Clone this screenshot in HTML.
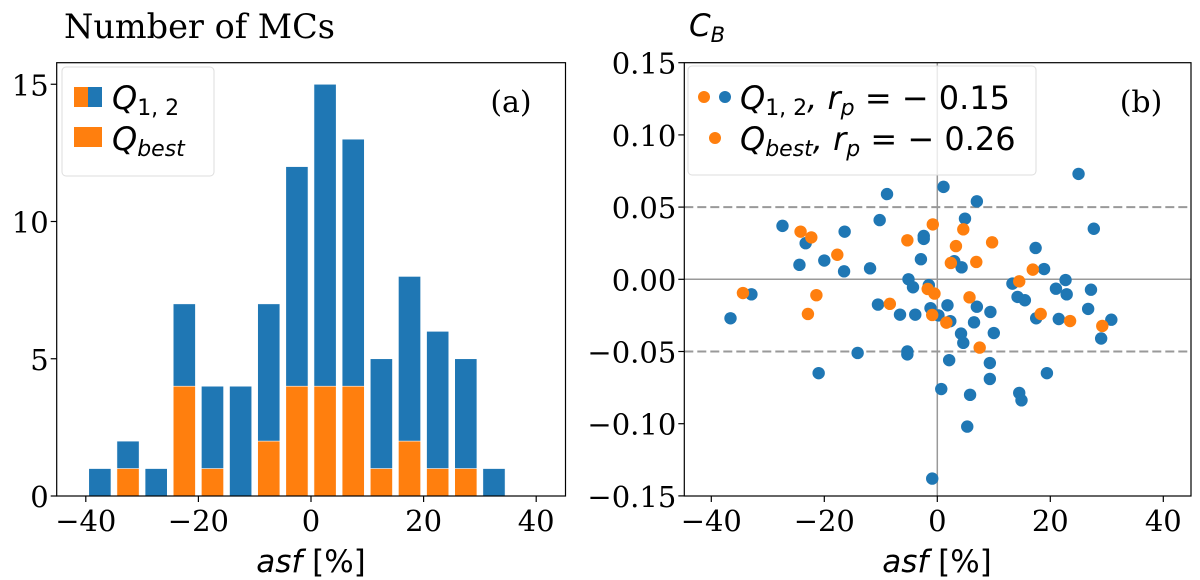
<!DOCTYPE html>
<html><head><meta charset="utf-8"><style>
html,body{margin:0;padding:0;background:#fff;}
svg{display:block;}
.tk{font-family:"DejaVu Serif","Liberation Serif",serif;font-size:29px;fill:#000;}
.lg{font-family:"DejaVu Sans","Liberation Sans",sans-serif;font-size:32px;font-style:italic;fill:#000;}
.nm{font-style:normal;}
</style></head><body>
<svg id="fig" width="1200" height="580" xmlns="http://www.w3.org/2000/svg">
<g id="left"></g>
<g id="right"></g>
</svg>
<script>
// ---- histogram data ----
const binCenters = [-37.5,-32.5,-27.5,-22.5,-17.5,-12.5,-7.5,-2.5,2.5,7.5,12.5,17.5,22.5,27.5,32.5];
const countsQ12 = [1,2,1,7,4,4,7,12,15,13,5,8,6,5,1];
const countsQbest = [0,1,0,4,1,0,2,4,4,4,1,2,1,1,0];
const histXTicks = [-40,-20,0,20,40];
const histYTicks = [0,5,10,15];
// ---- scatter data ----
const blueX = [-8.9,-10.2,-27.4,-23.3,-16.4,-24.4,-20.0,-16.5,-11.9,-2.4,-2.4,-2.9,-5.1,-4.3,-1.5,-32.9,-36.6,-10.5,-6.6,-3.9,-1.2,-14.1,-5.3,-5.3,-21.0,
 1.1,7.0,25.0,4.9,27.7,17.4,3.0,4.3,18.9,22.7,13.3,21.0,27.2,22.9,14.2,15.5,1.8,7.0,9.4,0.2,2.3,6.5,17.5,21.5,30.8,26.7,29.0,4.2,4.6,10.0,2.1,9.3,9.3,19.4,0.7,5.8,14.5,14.9,5.3,-0.9];
const blueY = [0.059,0.041,0.037,0.025,0.033,0.010,0.013,0.0055,0.0076,0.030,0.028,0.0139,0.0,-0.0055,-0.004,-0.0104,-0.027,-0.0175,-0.0245,-0.0245,-0.020,-0.051,-0.050,-0.052,-0.065,
 0.064,0.054,0.073,0.042,0.035,0.0217,0.0125,0.0083,0.0071,-0.0005,-0.003,-0.0065,-0.0072,-0.0104,-0.0122,-0.0145,-0.018,-0.019,-0.0226,-0.025,-0.029,-0.0298,-0.027,-0.0275,-0.028,-0.0205,-0.041,-0.0376,-0.044,-0.0372,-0.056,-0.058,-0.069,-0.065,-0.076,-0.080,-0.0787,-0.0838,-0.102,-0.138];
const orangeX = [-24.2,-22.3,-17.7,-5.3,-0.8,-34.4,-21.4,-22.9,-8.4,-1.7,-0.5,-0.9,4.6,3.3,9.7,2.4,6.9,16.9,14.5,5.7,18.3,1.6,23.5,29.2,7.5];
const orangeY = [0.033,0.029,0.017,0.027,0.038,-0.0095,-0.011,-0.024,-0.017,-0.0067,-0.0099,-0.0247,0.0346,0.023,0.0256,0.0113,0.012,0.0067,-0.0014,-0.0125,-0.024,-0.030,-0.0289,-0.0323,-0.0473];
const scXTicks = [-40,-20,0,20,40];
const scYTicks = [-0.15,-0.10,-0.05,0.00,0.05,0.10,0.15];

const NS="http://www.w3.org/2000/svg";
const BLUE="#1f77b4", ORANGE="#ff7f0e";
function mk(parent,tag,attrs,text){const e=document.createElementNS(NS,tag);for(const k in attrs)e.setAttribute(k,attrs[k]);if(text!==undefined)e.textContent=text;parent.appendChild(e);return e;}

// ---------- Left histogram ----------
const L=document.getElementById('left');
const lx0=56.7,lx1=565.5,ly0=62.7,ly1=496;
const hx=v=>311+v*5.63;
const hy=v=>ly1-v*27.45;
const hw=3.95*5.63;
binCenters.forEach((c,i)=>{
  const b=mk(L,'rect',{x:hx(c)-hw/2,y:hy(countsQ12[i]),width:hw,height:ly1-hy(countsQ12[i]),fill:BLUE,stroke:'#fff','stroke-width':0.6});
  
  
  if(countsQbest[i]>0){
    const o=mk(L,'rect',{x:hx(c)-hw/2,y:hy(countsQbest[i]),width:hw,height:ly1-hy(countsQbest[i]),fill:ORANGE,stroke:'#fff','stroke-width':0.6});
    
    
  }
});
const lf=mk(L,'rect',{x:lx0,y:ly0,width:lx1-lx0,height:ly1-ly0,fill:'none',stroke:'#000','stroke-width':1.2});


histXTicks.forEach(t=>{
  mk(L,'line',{x1:hx(t),x2:hx(t),y1:ly1,y2:ly1+6,stroke:'#000','stroke-width':1.2});
  const tl=mk(L,'text',{x:hx(t),y:ly1+35,'text-anchor':'middle',class:'tk'},t<0?'\u2212'+(-t):String(t));
  
  
});
histYTicks.forEach(t=>{
  mk(L,'line',{x1:lx0-6,x2:lx0,y1:hy(t),y2:hy(t),stroke:'#000','stroke-width':1.2});
  const tl=mk(L,'text',{x:lx0-8,y:hy(t)+11,'text-anchor':'end',class:'tk'},String(t));
  
  
});
</script>
<script>
(function(){
const L=document.getElementById('left');
L.insertAdjacentHTML('beforeend',`
<text x="64" y="38" class="tk" style="font-size:33.5px">Number of MCs</text>
<text x="311" y="572" text-anchor="middle" class="lg" style="font-size:31px">asf <tspan class="nm">[%]</tspan></text>
<text x="511" y="112" text-anchor="middle" class="tk" style="font-size:30px">(a)</text>
<g>
<rect x="62" y="67" width="152" height="109" rx="4" fill="#fff" fill-opacity="0.8" stroke="#ddd" stroke-width="1"/>
<rect x="74" y="87" width="14" height="20" fill="#ff7f0e"/><rect x="88" y="87" width="14" height="20" fill="#1f77b4"/>
<text x="112" y="109" class="lg">Q<tspan class="nm" font-size="22" dy="6">1, 2</tspan></text>
<rect x="74" y="127" width="28" height="20" fill="#ff7f0e"/>
<text x="112" y="150" class="lg">Q<tspan font-size="22" dy="6">best</tspan></text>
</g>`);
})();
</script>
<script>
(function(){
const R=document.getElementById('right');
const rx0=684.3,rx1=1191,ry0=62.7,ry1=496;
const sx=v=>937.3+v*5.65;
const sy=v=>279.3-v*1444;
[0.05,-0.05].forEach(v=>{
  const d=mk(R,'line',{x1:rx0,x2:rx1,y1:sy(v),y2:sy(v),stroke:'#999','stroke-width':2,'stroke-dasharray':'9,4'});
  
  
});
mk(R,'line',{x1:rx0,x2:rx1,y1:sy(0),y2:sy(0),stroke:'#999','stroke-width':1.5});
mk(R,'line',{x1:sx(0),x2:sx(0),y1:ry0,y2:ry1,stroke:'#999','stroke-width':1.5});
blueX.forEach((x,i)=>{
  const c=mk(R,'circle',{cx:sx(x),cy:sy(blueY[i]),r:6.2,fill:BLUE});
  
  
});
orangeX.forEach((x,i)=>{
  const c=mk(R,'circle',{cx:sx(x),cy:sy(orangeY[i]),r:6.2,fill:ORANGE});
  
  
});
const fr=mk(R,'rect',{x:rx0,y:ry0,width:rx1-rx0,height:ry1-ry0,fill:'none',stroke:'#000','stroke-width':1.2});


scXTicks.forEach(t=>{
  mk(R,'line',{x1:sx(t),x2:sx(t),y1:ry1,y2:ry1+6,stroke:'#000','stroke-width':1.2});
  const tl=mk(R,'text',{x:sx(t),y:ry1+35,'text-anchor':'middle',class:'tk'},t<0?'\u2212'+(-t):String(t));
  
  
});
scYTicks.forEach(t=>{
  mk(R,'line',{x1:rx0-6,x2:rx0,y1:sy(t),y2:sy(t),stroke:'#000','stroke-width':1.2});
  const s=(t<0?'\u2212':'')+Math.abs(t).toFixed(2);
  const tl=mk(R,'text',{x:rx0-8,y:sy(t)+11,'text-anchor':'end',class:'tk'},s);
  
  
});
R.insertAdjacentHTML('beforeend',`
<text x="689" y="36" class="lg" style="font-size:31px">C<tspan font-size="21" dy="6">B</tspan></text>
<text x="937" y="572" text-anchor="middle" class="lg" style="font-size:31px">asf <tspan class="nm">[%]</tspan></text>
<text x="1141" y="112" text-anchor="middle" class="tk" style="font-size:30px">(b)</text>
<g>
<rect x="688" y="66" width="348" height="109" rx="4" fill="#fff" fill-opacity="0.8" stroke="#ddd" stroke-width="1"/>
<circle cx="704" cy="97" r="6" fill="#ff7f0e"/><circle cx="725" cy="97" r="6" fill="#1f77b4"/>
<text x="740" y="109" class="lg">Q<tspan class="nm" font-size="22" dy="6">1, 2</tspan><tspan dy="-6">, r</tspan><tspan font-size="22" dy="6">p</tspan><tspan class="nm" dy="-6"> = − 0.15</tspan></text>
<circle cx="715" cy="138" r="6" fill="#ff7f0e"/>
<text x="740" y="150" class="lg">Q<tspan font-size="22" dy="6">best</tspan><tspan dy="-6">, r</tspan><tspan font-size="22" dy="6">p</tspan><tspan class="nm" dy="-6"> = − 0.26</tspan></text>
</g>`);
})();
</script>
</body></html>
